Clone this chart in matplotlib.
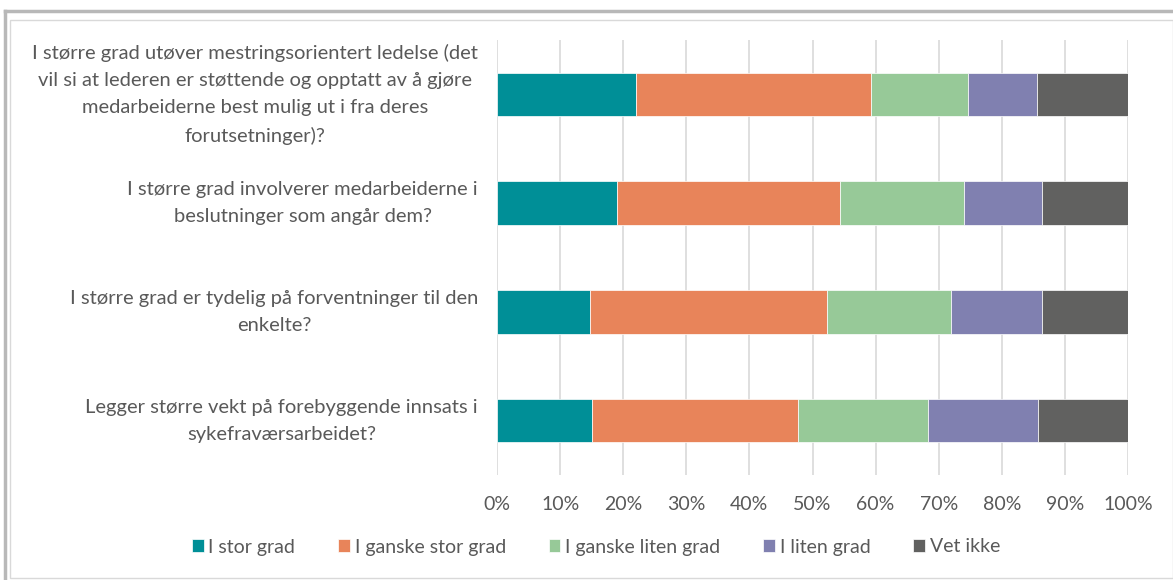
import matplotlib.pyplot as plt
from matplotlib.patches import Rectangle
from matplotlib.lines import Line2D

questions = [
    "I større grad utøver mestringsorientert ledelse (det\nvil si at lederen er støttende og opptatt av å gjøre\nmedarbeiderne best mulig ut i fra deres\nforutsetninger)?",
    "I større grad involverer medarbeiderne i\nbeslutninger som angår dem?",
    "I større grad er tydelig på forventninger til den\nenkelte?",
    "Legger større vekt på forebyggende innsats i\nsykefraværsarbeidet?",
]
series_names = ["I stor grad", "I ganske stor grad", "I ganske liten grad", "I liten grad", "Vet ikke"]
i_stor_grad = [22.0, 19.0, 14.7, 15.0]
i_ganske_stor_grad = [37.2, 35.3, 37.6, 32.7]
i_ganske_liten_grad = [15.4, 19.7, 19.7, 20.6]
i_liten_grad = [11.0, 12.4, 14.4, 17.5]
vet_ikke = [14.4, 13.6, 13.6, 14.2]
ticks = list(range(0, 101, 10))

colors = ["#008f97", "#e8845a", "#97c998", "#8080b0", "#616160"]
text_color = "#595959"
font = "Lato"
fsize = 14

fig = plt.figure(figsize=(11.73, 5.80), dpi=100)
W, H = 1173, 580

# chart frame
fig.add_artist(Line2D([5 / W, 5 / W], [0, 1 - 11 / H], color="#b8b8b8", lw=2.5))
fig.add_artist(Line2D([5 / W, 1], [1 - 11 / H, 1 - 11 / H], color="#b8b8b8", lw=2.5))
fig.add_artist(Rectangle((9.5 / W, 2 / H), 1 - 10 / W, 1 - 22 / H, fill=False,
                         edgecolor="#d9d9d9", lw=1, transform=fig.transFigure))

ax = fig.add_axes([497 / W, 1 - 475 / H, 631 / W, 435 / H])

data = [i_stor_grad, i_ganske_stor_grad, i_ganske_liten_grad, i_liten_grad, vet_ikke]
ypos = list(range(len(questions)))
left = [0.0] * len(questions)
handles = []
for name, vals, c in zip(series_names, data, colors):
    b = ax.barh(ypos, vals, left=left, height=0.4, color=c, label=name, zorder=3,
                edgecolor="white", linewidth=0.5)
    handles.append(b)
    left = [l + v for l, v in zip(left, vals)]

ax.set_xlim(0, 100)
ax.set_ylim(3.5, -0.5)
ax.set_xticks(ticks)
ax.set_xticklabels([f"{t}%" for t in ticks], fontsize=fsize, color=text_color, family=font)
ax.set_yticks([])
ax.tick_params(axis="x", length=0, pad=15)
ax.grid(axis="x", color="#d9d9d9", lw=1.2, zorder=0)
for s in ax.spines.values():
    s.set_visible(False)

for y, q in zip(ypos, questions):
    ax.text(-0.03, y, q, transform=ax.get_yaxis_transform(), ha="right", va="center",
            multialignment="center", fontsize=14.5, color=text_color, family=font,
            linespacing=1.72)

fig.legend(handles=handles, loc="center", bbox_to_anchor=(596 / W, 1 - 547 / H), ncol=5,
           frameon=False, handlelength=0.6, handleheight=0.6, handletextpad=0.25,
           columnspacing=2.2, prop={"family": font, "size": fsize}, labelcolor=text_color)

fig.savefig("out.png", dpi=100)
